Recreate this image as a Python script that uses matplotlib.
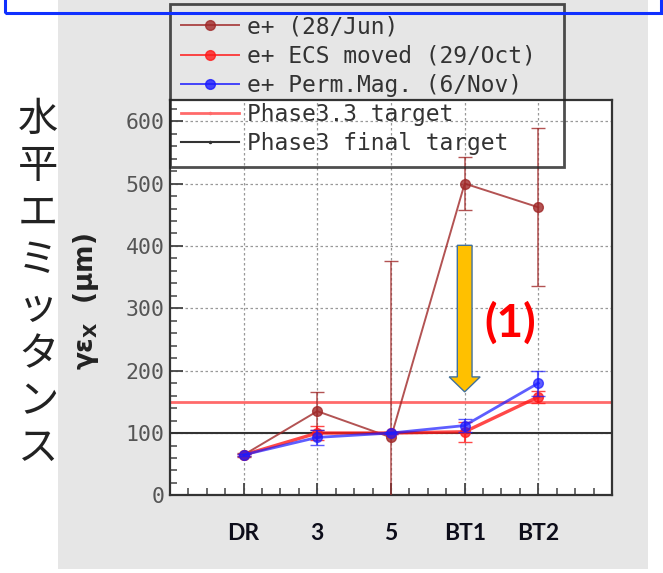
import numpy as np
import matplotlib
matplotlib.use('Agg')
import matplotlib.pyplot as plt
from matplotlib.patches import Rectangle, FancyArrow
from matplotlib.lines import Line2D
from matplotlib.ticker import MultipleLocator

plt.rcParams['font.family'] = ['DejaVu Sans']

# measurement points along the line
stations = ['DR', '3', '5', 'BT1', 'BT2']
xpos = np.arange(1, len(stations) + 1)

# horizontal emittance (um) and errors
jun_vals = [65, 135, 93, 500, 462]
jun_err = [3, 30, 283, 42, 127]
ecs_vals = [65, 100, 100, 102, 158]
ecs_err = [2, 11, 2, 16, 10]
perm_vals = [65, 93, 100, 112, 180]
perm_err = [2, 12, 2, 10, 20]

target_33 = 150
target_final = 100

labels = ['e+ (28/Jun)', 'e+ ECS moved (29/Oct)', 'e+ Perm.Mag. (6/Nov)',
          'Phase3.3 target', 'Phase3 final target']
jp_title = '水平エミッタンス'

c_jun = '#a02828'
c_ecs = '#ff1a1a'
c_perm = '#1a1aff'
c_t33 = '#ff6a6a'
c_tfin = '#333333'

fig = plt.figure(figsize=(6.63, 5.73), dpi=100)
fig.patch.set_facecolor('white')

# grey slide panel behind the plot
fig.add_artist(Rectangle((58 / 663, 4 / 573), 590 / 663, 1.0,
                         transform=fig.transFigure, fc='#e6e6e6', ec='none',
                         zorder=-10))

ax = fig.add_axes([170 / 663, 77.6 / 573, 442 / 663, 395.4 / 573])
ax.set_facecolor('white')

ax.axhline(target_33, color=c_t33, lw=2, zorder=2)
ax.axhline(target_final, color=c_tfin, lw=1.5, zorder=2)

ax.errorbar(xpos, jun_vals, yerr=jun_err, color=c_jun, marker='o', ms=7,
            lw=1.4, elinewidth=1.1, capsize=5, alpha=0.8, zorder=3)
ax.errorbar(xpos, ecs_vals, yerr=ecs_err, color=c_ecs, marker='o', ms=7,
            lw=2.4, elinewidth=1.5, capsize=5, alpha=0.8, zorder=4)
ax.errorbar(xpos, perm_vals, yerr=perm_err, color=c_perm, marker='o', ms=7,
            lw=2.0, elinewidth=1.5, capsize=5, alpha=0.7, zorder=5)

ax.set_xlim(0, 6)
ax.set_ylim(0, 634)

ax.set_xticks(xpos, labels=stations)
ax.xaxis.set_minor_locator(MultipleLocator(0.25))
ax.yaxis.set_major_locator(MultipleLocator(100))
ax.yaxis.set_minor_locator(MultipleLocator(20))
ax.tick_params(axis='both', which='both', direction='in', color='#444')
ax.tick_params(axis='both', which='major', length=9, width=1.3)
ax.tick_params(axis='both', which='minor', length=5, width=1.1)
ax.tick_params(axis='x', which='major', pad=20, labelsize=16.5, labelcolor='#0d0d1a')
ax.tick_params(axis='y', which='major', pad=4, labelsize=15.5, labelcolor='#555555')
for t in ax.get_xticklabels():
    t.set_fontfamily('Lato')
    t.set_fontweight('bold')
for t in ax.get_yticklabels():
    t.set_fontfamily('DejaVu Sans Mono')

ax.grid(True, which='major', ls=(0, (2, 2)), color='#999999', lw=0.9)
ax.set_axisbelow(True)
for s in ax.spines.values():
    s.set_color('#333333')
    s.set_linewidth(1.6)

ax.set_ylabel('γε$_\\mathregular{X}$  (μm)', fontsize=19, fontweight='bold',
              color='#222222')
ax.yaxis.set_label_coords(-0.155, 0.49)

# arrow and label for the improvement
ax.add_patch(FancyArrow(4, 401, 0, -235, width=0.2, head_width=0.42,
                        head_length=24, length_includes_head=True,
                        fc='#ffc000', ec='#41719c', lw=1, zorder=6))
ax.text(4.62, 276, '(1)', color='#ff0000', fontsize=33, fontweight='bold',
        family='Lato', ha='center', va='center', zorder=7)

handles = [
    Line2D([], [], color=c_jun, marker='o', ms=7, lw=1.4, alpha=0.8),
    Line2D([], [], color=c_ecs, marker='o', ms=7, lw=1.4, alpha=0.8),
    Line2D([], [], color=c_perm, marker='o', ms=7, lw=1.4, alpha=0.8),
    Line2D([], [], color=c_t33, marker='.', ms=3, lw=2),
    Line2D([], [], color=c_tfin, marker='.', ms=3, lw=1.5),
]
leg = ax.legend(handles, labels, loc='upper left',
                bbox_to_anchor=(0, 0.8356, 0.891, 0.4074), mode='expand',
                prop={'family': 'DejaVu Sans Mono', 'size': 16.5},
                frameon=True, fancybox=False, borderpad=0.5,
                labelspacing=0.27, handlelength=2.5, handletextpad=0.35,
                borderaxespad=0)
leg.get_frame().set_facecolor('none')
leg.get_frame().set_edgecolor('#222222')
leg.get_frame().set_linewidth(2)
for t in leg.get_texts():
    t.set_color('#333333')

# vertical Japanese title, one character per line
step = 47.1 / 573
y0 = 1 - 119 / 573
for i, ch in enumerate(jp_title):
    fig.text(38 / 663, y0 - i * step, ch, family='Noto Sans CJK JP',
             fontsize=29, color='#222222', ha='center', va='center')

# blue frame running along the top edge
fig.add_artist(Rectangle((5 / 663, 1 - 13 / 573), 656 / 663, 0.1,
                         transform=fig.transFigure, fc='none', ec='#1030ff',
                         lw=2.2, clip_on=False, zorder=20))

fig.savefig('out.png', dpi=100)
